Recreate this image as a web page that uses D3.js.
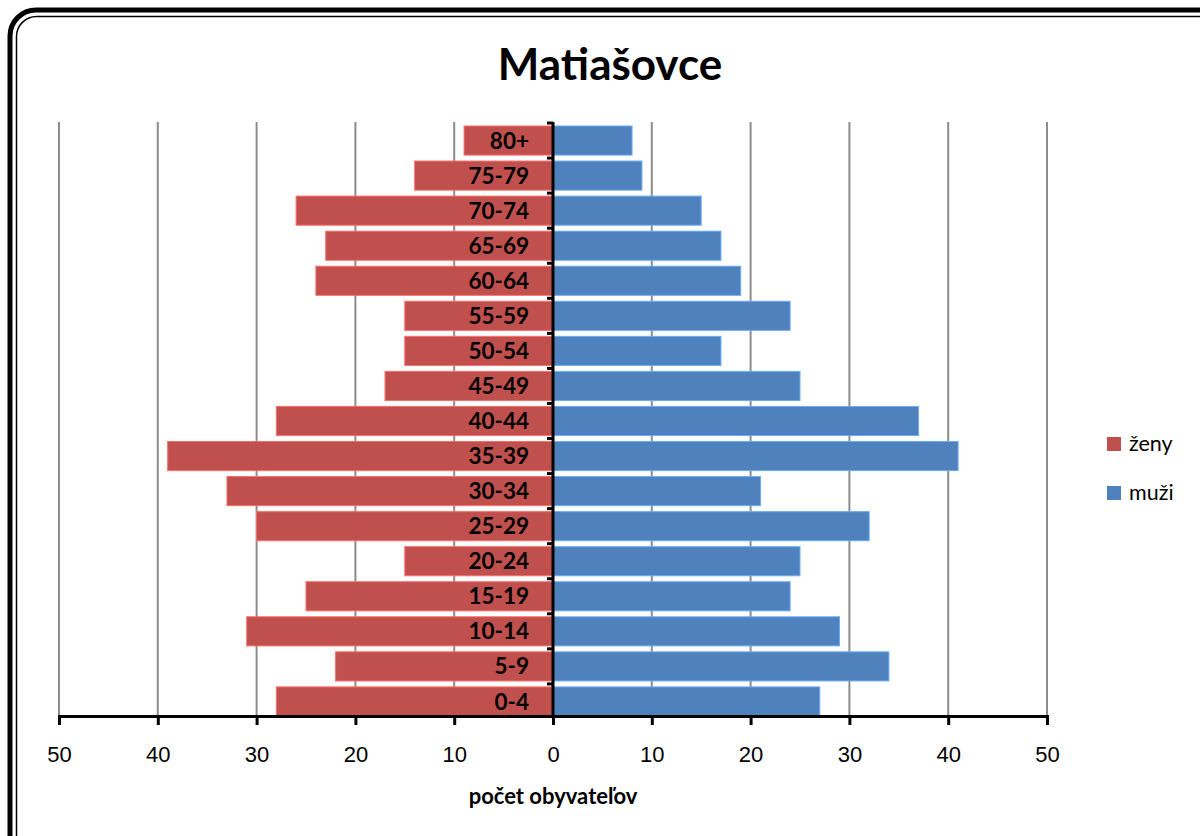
<!DOCTYPE html>
<meta charset="utf-8">
<title>Matiašovce</title>
<style>
body { margin: 0; background: #fff; }
svg { display: block; font-family: Lato, "Open Sans", sans-serif; }
.grid line { stroke: #8c8c8c; stroke-width: 2; }
.cat text { font-weight: bold; font-size: 22.5px; text-anchor: end; }
.xaxis text { font-size: 22px; }
.xaxis path, .xaxis line { stroke: #000; stroke-width: 3; }
</style>
<svg width="1200" height="836"></svg>
<script src="https://cdn.jsdelivr.net/npm/d3@7"></script>
<script>

var groups = ["80+", "75-79", "70-74", "65-69", "60-64", "55-59", "50-54", "45-49", "40-44",
              "35-39", "30-34", "25-29", "20-24", "15-19", "10-14", "5-9", "0-4"];
var zeny = [9, 14, 26, 23, 24, 15, 15, 17, 28, 39, 33, 30, 15, 25, 31, 22, 28];
var muzi = [8, 9, 15, 17, 19, 24, 17, 25, 37, 41, 21, 32, 25, 24, 29, 34, 27];
var ticks = [-50, -40, -30, -20, -10, 0, 10, 20, 30, 40, 50];
var series = [
  {name: "ženy", color: "#C0504D", values: zeny, sign: -1},
  {name: "muži", color: "#4F81BD", values: muzi, sign: 1}
];

var svg = d3.select("svg");

// frame, double rounded border running off the right and bottom
svg.append("rect")
    .attr("x", 10).attr("y", 10).attr("width", 1230).attr("height", 880)
    .attr("rx", 26).attr("fill", "none").attr("stroke", "#000").attr("stroke-width", 5);
svg.append("rect")
    .attr("x", 16.5).attr("y", 16.5).attr("width", 1220).attr("height", 870)
    .attr("rx", 20).attr("fill", "none").attr("stroke", "#000").attr("stroke-width", 1.5);

svg.append("text")
    .attr("x", 610).attr("y", 80)
    .attr("text-anchor", "middle")
    .style("font-weight", "bold").style("font-size", "44px")
    .text("Matiašovce");

var x = d3.scaleLinear().domain([-50, 50]).range([59, 1047]);
var y = d3.scaleBand().domain(groups).range([126, 716]).paddingInner(0.17).paddingOuter(0);
var gap = y.step() - y.bandwidth();

svg.append("g").attr("class", "grid")
  .selectAll("line")
    .data(ticks.filter(function(d) { return d !== 0; }))
  .enter().append("line")
    .attr("x1", function(d) { return x(d); })
    .attr("x2", function(d) { return x(d); })
    .attr("y1", 122).attr("y2", 716);

series.forEach(function(s) {
  svg.append("g").selectAll("rect")
      .data(s.values)
    .enter().append("rect")
      .attr("x", function(d) { return s.sign < 0 ? x(-d) : x(0); })
      .attr("y", function(d, i) { return y(groups[i]); })
      .attr("width", function(d) { return Math.abs(x(d) - x(0)); })
      .attr("height", y.bandwidth())
      .attr("fill", s.color)
      .attr("stroke", d3.color(s.color).brighter(0.8))
      .attr("stroke-width", 1);
});

// vertical axis with ticks between bars
var vaxis = svg.append("g");
vaxis.append("line")
    .attr("x1", x(0)).attr("x2", x(0)).attr("y1", 122).attr("y2", 718)
    .attr("stroke", "#000").attr("stroke-width", 3);
vaxis.selectAll(".tk")
    .data(groups)
  .enter().append("line")
    .attr("x1", x(0) - 6).attr("x2", x(0))
    .attr("y1", function(d) { return y(d) - gap / 2; })
    .attr("y2", function(d) { return y(d) - gap / 2; })
    .attr("stroke", "#000").attr("stroke-width", 3);

svg.append("g").attr("class", "cat")
  .selectAll("text")
    .data(groups)
  .enter().append("text")
    .attr("x", 529)
    .attr("y", function(d) { return y(d) + y.bandwidth() / 2; })
    .attr("dy", "0.36em")
    .text(function(d) { return d; });

var xAxis = d3.axisBottom(x).tickValues(ticks).tickSizeInner(9).tickSizeOuter(9).tickPadding(21)
    .tickFormat(function(d) { return Math.abs(d); });
svg.append("g").attr("class", "xaxis")
    .attr("transform", "translate(0,716)")
    .call(xAxis);

svg.append("text")
    .attr("x", x(0)).attr("y", 804)
    .attr("text-anchor", "middle")
    .style("font-weight", "bold").style("font-size", "22px")
    .text("počet obyvateľov");

var legend = svg.append("g").selectAll("g")
    .data(series)
  .enter().append("g")
    .attr("transform", function(d, i) { return "translate(1107," + (437 + i * 49) + ")"; });
legend.append("rect").attr("width", 14).attr("height", 14).attr("fill", function(d) { return d.color; });
legend.append("text").attr("x", 22).attr("y", 6).attr("dy", "0.36em")
    .style("font-size", "21.5px").text(function(d) { return d.name; });

</script>
